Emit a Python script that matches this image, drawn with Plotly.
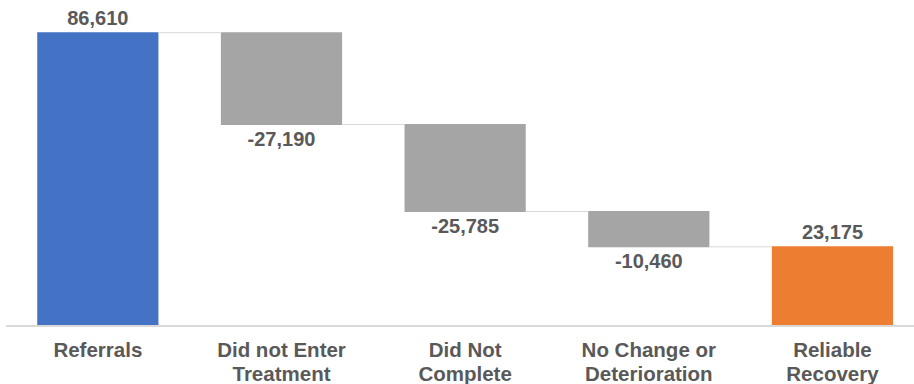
import plotly.graph_objects as go

# Patient flow through treatment
categories = ["Referrals", "Did not Enter Treatment", "Did Not Complete",
              "No Change or Deterioration", "Reliable Recovery"]
label_line1 = ["Referrals", "Did not Enter", "Did Not", "No Change or", "Reliable"]
label_line2 = ["", "Treatment", "Complete", "Deterioration", "Recovery"]
changes = [86610, -27190, -25785, -10460, 23175]
measures = ["relative", "relative", "relative", "relative", "total"]
labels = [f"{v:,}" for v in changes]

FONT = "Arial, Liberation Sans, sans-serif"
TEXT_GREY = "#595959"
positions = list(range(len(categories)))

fig = go.Figure(go.Waterfall(
    x=positions,
    y=changes,
    measure=measures,
    text=labels,
    customdata=categories,
    textposition="outside",
    textfont=dict(family=FONT, size=20, color=TEXT_GREY, weight="bold"),
    increasing=dict(marker=dict(color="#4472C4")),
    decreasing=dict(marker=dict(color="#A5A5A5")),
    totals=dict(marker=dict(color="#ED7D31")),
    connector=dict(line=dict(color="#D9D9D9", width=1)),
    width=0.66,
    cliponaxis=False,
    hoverinfo="skip",
))

# empty companion trace so the second-line axis is laid out
fig.add_trace(go.Scatter(
    x=positions, y=[None] * len(positions), xaxis="x2", yaxis="y",
    mode="markers", showlegend=False, hoverinfo="skip",
))

tick_font = dict(family=FONT, size=20.5, color=TEXT_GREY, weight="bold")
x_range = [-0.5, 4.444]

fig.update_layout(
    width=914, height=384,
    margin=dict(l=6, r=0, t=0, b=59),
    paper_bgcolor="white", plot_bgcolor="white",
    showlegend=False,
    xaxis=dict(
        range=x_range, automargin=False,
        showline=True, linecolor="#D9D9D9", linewidth=1.5,
        showgrid=False, zeroline=False, ticks="",
        tickmode="array", tickvals=positions, ticktext=label_line1,
        ticklabelstandoff=6, tickfont=tick_font,
    ),
    # second line of each category name, set just under the first
    xaxis2=dict(
        overlaying="x", side="bottom", anchor="y",
        range=x_range, automargin=False,
        showline=False, showgrid=False, zeroline=False, ticks="",
        tickmode="array", tickvals=positions, ticktext=label_line2,
        ticklabelstandoff=34, tickfont=tick_font,
    ),
    yaxis=dict(range=[0, 96300], visible=False, showgrid=False, automargin=False),
)

fig.write_html("out.html")
